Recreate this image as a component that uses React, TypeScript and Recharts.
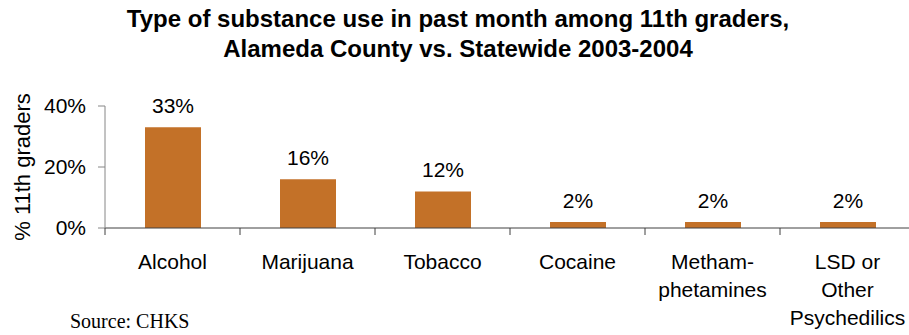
import React from "react";
import { BarChart, Bar, XAxis, YAxis, LabelList } from "recharts";

// substance categories (line breaks as in the original labels)
const categories = [
  "Alcohol",
  "Marijuana",
  "Tobacco",
  "Cocaine",
  "Metham-\nphetamines",
  "LSD or\nOther\nPsychedilics",
];
const percentUsed = [33, 16, 12, 2, 2, 2];
const yTicks = [0, 20, 40];

const data = categories.map((name, i) => ({ name, value: percentUsed[i] }));

const CHART_W = 917;
const CHART_H = 335;
const MARGIN = { top: 106, right: 2, bottom: 47, left: 0 };
const YAXIS_W = 105;
const BAND = (CHART_W - MARGIN.left - MARGIN.right - YAXIS_W) / categories.length;

const FONT = "'Liberation Sans', Arial, sans-serif";

function CategoryTick(props: any) {
  const { x, y, payload } = props;
  const lines = String(payload.value).split("\n");
  const left = x - BAND / 2;
  return (
    <g>
      <line x1={left} y1={y} x2={left} y2={y + 7} stroke="#404040" strokeWidth={1} />
      <text x={x} y={y + 41} textAnchor="middle" fontSize={21} fontFamily={FONT} fill="#000">
        {lines.map((l, i) => (
          <tspan key={i} x={x} dy={i === 0 ? 0 : 28}>
            {l}
          </tspan>
        ))}
      </text>
    </g>
  );
}

export default function App() {
  return (
    <div
      style={{
        position: "absolute",
        left: 0,
        top: 0,
        width: 909,
        height: 335,
        overflow: "hidden",
        background: "#fff",
      }}
    >
      <div
        style={{
          position: "absolute",
          left: 0,
          top: 4,
          width: 916,
          textAlign: "center",
          fontFamily: FONT,
          fontWeight: "bold",
          fontSize: 24,
          lineHeight: "30px",
          color: "#000",
        }}
      >
        Type of substance use in past month among 11th graders,
        <br />
        Alameda County vs. Statewide 2003-2004
      </div>

      <BarChart width={CHART_W} height={CHART_H} data={data} margin={MARGIN}>
        <XAxis
          dataKey="name"
          interval={0}
          axisLine={{ stroke: "#404040" }}
          tickLine={false}
          tickSize={0}
          tickMargin={0}
          height={60}
          tick={<CategoryTick />}
        />
        <YAxis
          width={YAXIS_W}
          domain={[0, 40]}
          ticks={yTicks}
          tickFormatter={(v) => `${v}%`}
          axisLine={{ stroke: "#868686" }}
          tickLine={{ stroke: "#868686" }}
          tickSize={7}
          tickMargin={12}
          tick={{ fill: "#000", fontSize: 21, fontFamily: FONT }}
        />
        <Bar dataKey="value" fill="#C37128" barSize={56} isAnimationActive={false}>
          <LabelList
            dataKey="value"
            position="top"
            offset={14}
            formatter={(v: any) => `${v}%`}
            style={{ fill: "#000", fontSize: 21, fontFamily: FONT }}
          />
        </Bar>
      </BarChart>

      <div
        style={{
          position: "absolute",
          left: 23,
          top: 167,
          transform: "translate(-50%, -50%) rotate(-90deg)",
          whiteSpace: "nowrap",
          fontFamily: FONT,
          fontSize: 22,
          lineHeight: 1,
          color: "#000",
        }}
      >
        % 11th graders
      </div>

      <div
        style={{
          position: "absolute",
          left: 70,
          top: 311,
          fontFamily: "'Liberation Serif', 'Times New Roman', serif",
          fontSize: 20,
          lineHeight: 1,
          color: "#000",
        }}
      >
        Source: CHKS
      </div>
    </div>
  );
}
